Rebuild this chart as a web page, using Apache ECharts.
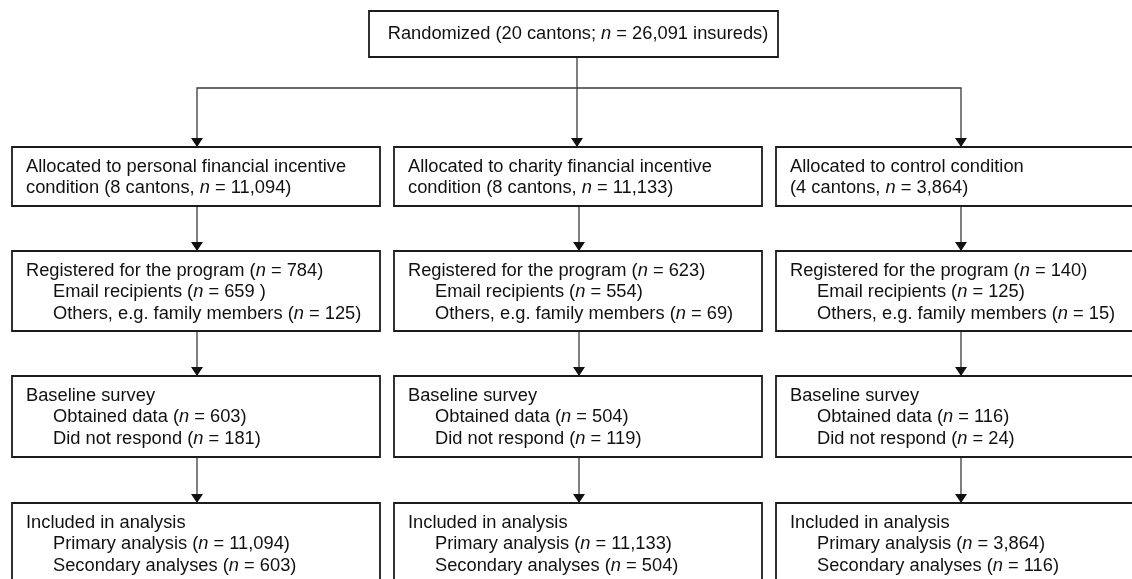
<!DOCTYPE html>
<html><head><meta charset="utf-8">
<script src="https://cdn.jsdelivr.net/npm/echarts@6/dist/echarts.min.js"></script>
<style>html,body{margin:0;padding:0;background:#fff}#c{width:1132px;height:579px}</style>
</head><body><div id="c"></div>
<script>
// ---- data ----
const totalCantons = 20;
const totalN = 26091;
const allocLine1 = ['Allocated to personal financial incentive', 'Allocated to charity financial incentive', 'Allocated to control condition'];
const allocLine2Prefix = ['condition (', 'condition (', '('];
const cantons = [8, 8, 4];
const allocatedN = [11094, 11133, 3864];
const registeredN = [784, 623, 140];
const emailN = [659, 554, 125];
const emailSuffix = [' ', '', ''];
const othersN = [125, 69, 15];
const obtainedN = [603, 504, 116];
const noResponseN = [181, 119, 24];
const primaryN = [11094, 11133, 3864];
const secondaryN = [603, 504, 116];

// ---- layout ----
const FONT = '"Liberation Sans", Arial, Helvetica, sans-serif';
const FS = 18.3;
const colX = [12, 394, 776];
const BOXW = 368;
const rowTop = [147, 251, 376, 503];
const rowH = [59, 80, 81, 110];
const PAD = 14, INDENT = 27, FIRST = 19.5, LH = 21.7;
const topBox = {x: 369, y: 11, w: 409, h: 46};
const splitY = 88;

const fmt = v => v.toLocaleString('en-US');
const nEq = (v, s) => '({i|n} = ' + fmt(v) + (s || '') + ')';

const boxes = [];
boxes.push({x: topBox.x, y: topBox.y, w: topBox.w, h: topBox.h, center: true,
  lines: [{text: 'Randomized (' + totalCantons + ' cantons; {i|n} = ' + fmt(totalN) + ' insureds)'}]});
for (let c = 0; c < 3; c++) {
  const x = colX[c];
  boxes.push({x, y: rowTop[0], w: BOXW, h: rowH[0], lines: [
    {text: allocLine1[c]},
    {text: allocLine2Prefix[c] + cantons[c] + ' cantons, {i|n} = ' + fmt(allocatedN[c]) + ')'}]});
  boxes.push({x, y: rowTop[1], w: BOXW, h: rowH[1], lines: [
    {text: 'Registered for the program ' + nEq(registeredN[c])},
    {text: 'Email recipients ' + nEq(emailN[c], emailSuffix[c]), indent: true},
    {text: 'Others, e.g. family members ' + nEq(othersN[c]), indent: true}]});
  boxes.push({x, y: rowTop[2], w: BOXW, h: rowH[2], lines: [
    {text: 'Baseline survey'},
    {text: 'Obtained data ' + nEq(obtainedN[c]), indent: true},
    {text: 'Did not respond ' + nEq(noResponseN[c]), indent: true}]});
  boxes.push({x, y: rowTop[3], w: BOXW, h: rowH[3], lines: [
    {text: 'Included in analysis'},
    {text: 'Primary analysis ' + nEq(primaryN[c]), indent: true},
    {text: 'Secondary analyses ' + nEq(secondaryN[c]), indent: true}]});
}

const midX = 577;
const arrowX = colX.map(x => x + BOXW / 2 + 1);
const edges = [];
edges.push([[midX, topBox.y + topBox.h], [midX, rowTop[0]]]);
edges.push([[midX, splitY], [arrowX[0], splitY], [arrowX[0], rowTop[0]]]);
edges.push([[midX, splitY], [arrowX[2], splitY], [arrowX[2], rowTop[0]]]);
for (let c = 0; c < 3; c++) {
  for (let r = 0; r < 3; r++) {
    edges.push([[arrowX[c], rowTop[r] + rowH[r]], [arrowX[c], rowTop[r + 1]]]);
  }
}

const tokenBase = {fontSize: FS, fontFamily: FONT, fill: '#111', lineHeight: 22, verticalAlign: 'middle'};
const richStyle = {
  r: Object.assign({}, tokenBase),
  i: Object.assign({fontStyle: 'italic'}, tokenBase)
};
// wrap plain segments into {r|...} tokens so all tokens align identically
function toRich(s) {
  const parts = s.split(/(\{i\|n\})/);
  return parts.filter(p => p.length).map(p => p === '{i|n}' ? p : '{r|' + p + '}').join('');
}

function renderBox(params, api) {
  const b = boxes[params.dataIndex];
  const p0 = api.coord([b.x, b.y]);
  const p1 = api.coord([b.x + b.w, b.y + b.h]);
  const children = [{type: 'rect', shape: {x: p0[0], y: p0[1], width: p1[0] - p0[0], height: p1[1] - p0[1]},
    style: {fill: '#fff', stroke: '#1c1c1c', lineWidth: 1.8}}];
  b.lines.forEach((ln, i) => {
    const px = b.center ? b.x + b.w / 2 + 4.5 : b.x + PAD + (ln.indent ? INDENT : 0);
    const py = b.center ? b.y + b.h / 2 : b.y + FIRST + i * LH;
    const pos = api.coord([px, py]);
    children.push({type: 'text', style: {text: toRich(ln.text), x: pos[0], y: pos[1],
      align: b.center ? 'center' : 'left', verticalAlign: 'middle',
      fontSize: FS, fontFamily: FONT, fill: '#111', lineHeight: 22, rich: richStyle}});
  });
  return {type: 'group', children};
}

function renderEdge(params, api) {
  const pts = edges[params.dataIndex].map(p => api.coord(p));
  const end = pts[pts.length - 1];
  return {type: 'group', children: [
    {type: 'polyline', shape: {points: pts}, style: {stroke: '#3a3a3a', lineWidth: 1.3, fill: null}},
    {type: 'polygon', shape: {points: [[end[0], end[1]], [end[0] - 6, end[1] - 9], [end[0] + 6, end[1] - 9]]},
      style: {fill: '#111'}}
  ]};
}

const chart = echarts.init(document.getElementById('c'), null, {renderer: 'canvas'});
chart.setOption({
  animation: false,
  backgroundColor: '#fff',
  grid: {left: 0, right: 0, top: 0, bottom: 0},
  xAxis: {type: 'value', min: 0, max: 1132, show: false},
  yAxis: {type: 'value', min: 0, max: 579, inverse: true, show: false},
  series: [
    {type: 'custom', coordinateSystem: 'cartesian2d', renderItem: renderEdge,
      data: edges.map((e, i) => [e[0][0], e[0][1]]), z: 1, silent: true},
    {type: 'custom', coordinateSystem: 'cartesian2d', renderItem: renderBox,
      data: boxes.map(b => [b.x, b.y]), z: 2, silent: true}
  ]
});
</script></body></html>
